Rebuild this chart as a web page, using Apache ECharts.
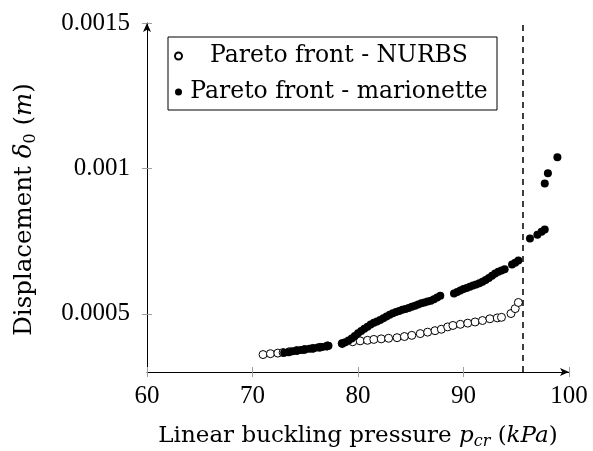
<!DOCTYPE html>
<html>
<head>
<meta charset="utf-8">
<script src="https://cdn.jsdelivr.net/npm/echarts@6/dist/echarts.min.js"></script>
<style>
  html, body { margin: 0; padding: 0; background: #fff; }
  #main { width: 593px; height: 451px; }
</style>
</head>
<body>
<div id="main"></div>
<script>
// values
var xTicks = [60, 70, 80, 90, 100];
var yTicks = [0.0005, 0.001, 0.0015];
var limitPressure = 95.6;

var nurbs = [
  [71.0, 0.00036], [71.7, 0.000363], [72.4, 0.000365], [72.9, 0.000367], [73.5, 0.00037],
  [74.2, 0.000374], [74.9, 0.000377], [75.7, 0.000381], [76.4, 0.000385], [77.1, 0.00039],
  [78.5, 0.000398], [79.5, 0.000404], [80.2, 0.000407], [80.9, 0.000409], [81.5, 0.000412],
  [82.2, 0.000414], [82.9, 0.000416], [83.7, 0.000418], [84.4, 0.000422], [85.1, 0.000426],
  [85.9, 0.000432], [86.6, 0.000437], [87.3, 0.000442], [87.9, 0.000447], [88.5, 0.000455],
  [89.0, 0.00046], [89.7, 0.000464], [90.4, 0.000468], [91.1, 0.000472], [91.8, 0.000477],
  [92.5, 0.000483], [93.2, 0.000486], [93.6, 0.000488], [94.5, 0.000501], [94.9, 0.000518],
  [95.2, 0.000539]
];

var marionette = [
  [73.0, 0.000366], [73.4, 0.000368], [73.8, 0.000371], [74.2, 0.000373], [74.6, 0.000376],
  [75.0, 0.000378], [75.4, 0.00038], [75.8, 0.000382], [76.2, 0.000384], [76.6, 0.000386],
  [77.0, 0.000388], [77.2, 0.00039],
  [78.5, 0.000398], [78.8, 0.000402], [79.1, 0.000408], [79.4, 0.000415], [79.7, 0.000424],
  [80.0, 0.000433], [80.3, 0.000441], [80.6, 0.000449], [80.9, 0.000456], [81.2, 0.000463],
  [81.5, 0.000469], [81.8, 0.000474], [82.1, 0.000479], [82.4, 0.000485], [82.7, 0.000491],
  [83.0, 0.000497], [83.3, 0.000502], [83.6, 0.000506], [83.9, 0.00051], [84.2, 0.000514],
  [84.5, 0.000517], [84.8, 0.00052], [85.1, 0.000524], [85.4, 0.000528], [85.7, 0.000532],
  [86.0, 0.000536], [86.3, 0.000539], [86.6, 0.000542], [86.9, 0.000545], [87.2, 0.00055],
  [87.5, 0.000556], [87.8, 0.000562],
  [89.1, 0.00057], [89.4, 0.000575], [89.7, 0.00058], [90.0, 0.000585], [90.3, 0.000589],
  [90.6, 0.000593], [90.9, 0.000597], [91.2, 0.000601], [91.5, 0.000605], [91.8, 0.00061],
  [92.1, 0.000616], [92.4, 0.000623], [92.7, 0.000631], [93.0, 0.000639], [93.3, 0.000645],
  [93.6, 0.000649], [93.9, 0.000653], [94.6, 0.00067], [94.9, 0.000676], [95.2, 0.000683],
  [96.3, 0.000759], [97.0, 0.000772], [97.4, 0.000782], [97.7, 0.00079],
  [97.7, 0.000948], [98.0, 0.000983], [98.9, 0.001038]
];

var textFont = "DejaVu Serif";
var numFont = "Liberation Serif";

var myChart = echarts.init(document.getElementById("main"));

var tickGray = "#a0a0a0";

myChart.setOption({
  animation: false,
  backgroundColor: "#fff",
  grid: { left: 147, right: 24, top: 23, bottom: 79, containLabel: false, outerBoundsMode: "none" },
  legend: {
    orient: "vertical",
    left: 168,
    top: 37,
    padding: [4, 6, 3, 6],
    itemGap: 6,
    itemWidth: 7,
    itemHeight: 7,
    icon: "circle",
    backgroundColor: "#fff",
    borderColor: "#000",
    borderWidth: 1,
    borderRadius: 0,
    data: ["Pareto front - NURBS", "Pareto front - marionette"],
    formatter: "{c|{name}}",
    textStyle: {
      lineHeight: 30,
      rich: {
        c: {
          width: 304,
          height: 30,
          lineHeight: 30,
          align: "center",
          fontFamily: textFont,
          fontSize: 23.5,
          color: "#000"
        }
      }
    }
  },
  xAxis: [
    {
      type: "value",
      min: 60,
      max: 100,
      interval: 10,
      splitLine: { show: false },
      axisLine: {
        onZero: false,
        lineStyle: { color: "#000", width: 1 },
        symbol: ["none", "arrow"],
        symbolSize: [6, 9]
      },
      axisTick: { inside: true, length: 5, lineStyle: { color: tickGray } },
      axisLabel: { margin: 12, fontFamily: numFont, fontSize: 25, color: "#000" },
      name: "Linear buckling pressure {i|p}{sub|cr} ({i|kPa})",
      nameLocation: "middle",
      nameGap: 50,
      nameTextStyle: {
        fontFamily: textFont,
        fontSize: 23,
        color: "#000",
        rich: {
          i: { fontFamily: textFont, fontStyle: "italic", fontSize: 23, color: "#000" },
          sub: { fontFamily: textFont, fontStyle: "italic", fontSize: 16, color: "#000", padding: [12, 0, 0, 0] }
        }
      }
    },
    {
      type: "value",
      position: "bottom",
      min: 60,
      max: 100,
      interval: 10,
      splitLine: { show: false },
      axisLine: { show: false },
      axisTick: { inside: false, length: 5, lineStyle: { color: tickGray } },
      axisLabel: { show: false }
    }
  ],
  yAxis: [
    {
      type: "value",
      min: 0.0003,
      max: 0.0015,
      splitLine: { show: false },
      axisLine: {
        onZero: false,
        lineStyle: { color: "#000", width: 1 },
        symbol: ["none", "arrow"],
        symbolSize: [6, 9]
      },
      axisTick: { inside: true, length: 5, customValues: yTicks, lineStyle: { color: tickGray } },
      axisLabel: {
        margin: 17,
        customValues: yTicks,
        fontFamily: numFont,
        fontSize: 25,
        color: "#000",
        formatter: function (v) { return String(v); }
      },
      name: "Displacement {i|δ}{sub|0} ({i|m})",
      nameLocation: "middle",
      nameGap: 108,
      nameTextStyle: {
        fontFamily: textFont,
        fontSize: 24.5,
        color: "#000",
        padding: [0, 24, 0, 0],
        rich: {
          i: { fontFamily: textFont, fontStyle: "italic", fontSize: 24.5, color: "#000" },
          sub: { fontFamily: textFont, fontSize: 16, color: "#000", padding: [12, 0, 0, 0] }
        }
      }
    },
    {
      type: "value",
      position: "left",
      min: 0.0003,
      max: 0.0015,
      splitLine: { show: false },
      axisLine: { show: false },
      axisTick: { inside: false, length: 5, customValues: yTicks, lineStyle: { color: tickGray } },
      axisLabel: { show: false }
    }
  ],
  series: [
    {
      name: "Pareto front - NURBS",
      type: "scatter",
      symbol: "circle",
      symbolSize: 8,
      itemStyle: { color: "#fff", borderColor: "#000", borderWidth: 1, opacity: 1 },
      data: nurbs,
      markLine: {
        silent: true,
        symbol: ["none", "none"],
        label: { show: false },
        lineStyle: { color: "#000", type: [6, 5], width: 1.5 },
        data: [{ xAxis: limitPressure }]
      }
    },
    {
      name: "Pareto front - marionette",
      type: "scatter",
      symbol: "circle",
      symbolSize: 8,
      itemStyle: { color: "#000", borderColor: "#000", borderWidth: 0, opacity: 1 },
      data: marionette
    }
  ]
});
</script>
</body>
</html>
